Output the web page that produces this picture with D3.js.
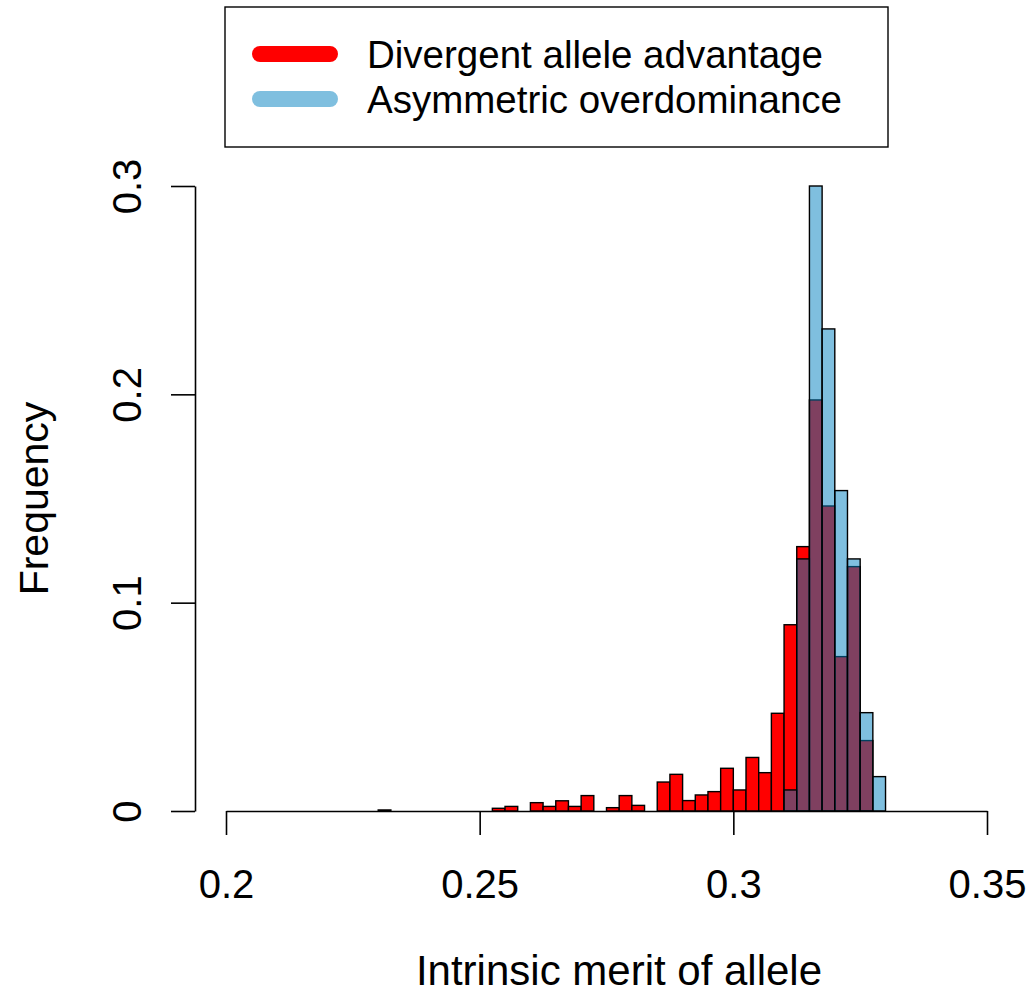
<!DOCTYPE html>
<html>
<head>
<meta charset="utf-8">
<script src="https://cdn.jsdelivr.net/npm/d3@7"></script>
<style>
  html, body { margin: 0; padding: 0; background: #fff; }
  svg { display: block; font-family: "Liberation Sans", Arial, Helvetica, sans-serif; }
</style>
</head>
<body>
<svg id="chart" width="1029" height="993"></svg>
<script>
// Histogram bins: lower edges start at binStart and step by binWidth (60 bins, 0.2 to 0.35)
const binStart = 0.2;
const binWidth = 0.0025;

// Relative frequency per bin, divergent allele advantage
const divergentFreq = [
  0, 0, 0, 0, 0, 0, 0, 0, 0, 0,
  0, 0, 0.0005, 0, 0, 0, 0, 0, 0, 0,
  0, 0.0013, 0.0022, 0, 0.004, 0.0022, 0.0049, 0.0022, 0.0074, 0,
  0.0016, 0.0074, 0.0027, 0, 0.0139, 0.0176, 0.005, 0.0077, 0.0093, 0.0205,
  0.0101, 0.0257, 0.0184, 0.0469, 0.0894, 0.1269, 0.1973, 0.1464, 0.0741, 0.1173,
  0.0338, 0, 0, 0, 0, 0, 0, 0, 0, 0
];

// Relative frequency per bin, asymmetric overdominance
const asymmetricFreq = [
  0, 0, 0, 0, 0, 0, 0, 0, 0, 0,
  0, 0, 0, 0, 0, 0, 0, 0, 0, 0,
  0, 0, 0, 0, 0, 0, 0, 0, 0, 0,
  0, 0, 0, 0, 0, 0, 0, 0, 0, 0,
  0, 0, 0, 0, 0.0101, 0.121, 0.3, 0.2314, 0.1538, 0.121,
  0.0472, 0.0165, 0, 0, 0, 0, 0, 0, 0, 0
];

const xTicks = [0.2, 0.25, 0.3, 0.35];
const xTickLabels = ["0.2", "0.25", "0.3", "0.35"];
const yTicks = [0, 0.1, 0.2, 0.3];
const yTickLabels = ["0", "0.1", "0.2", "0.3"];

const seriesNames = ["Divergent allele advantage", "Asymmetric overdominance"];
const seriesColors = ["#ff0000", "rgba(0,128,192,0.5)"];

const svg = d3.select("#chart");

const x = d3.scaleLinear().domain([0.2, 0.35]).range([226, 987]);
const y = d3.scaleLinear().domain([0, 0.3]).range([811, 186]);

function bins(values) {
  return values.map((v, i) => ({ x0: binStart + i * binWidth, x1: binStart + (i + 1) * binWidth, v }));
}

function drawHist(values, color) {
  svg.append("g")
    .selectAll("rect")
    .data(bins(values))
    .join("rect")
    .attr("x", d => x(d.x0))
    .attr("width", d => x(d.x1) - x(d.x0))
    .attr("y", d => y(d.v))
    .attr("height", d => y(0) - y(d.v))
    .attr("fill", color)
    .attr("stroke", "#000")
    .attr("stroke-width", 1.4);
}

drawHist(divergentFreq, seriesColors[0]);
drawHist(asymmetricFreq, seriesColors[1]);

const fontSize = 40;

// x axis along the zero line
const xAxis = d3.axisBottom(x).tickValues(xTicks).tickFormat((d, i) => xTickLabels[i]).tickSize(24).tickSizeOuter(0);
const gx = svg.append("g").attr("transform", `translate(0,${y(0)})`).call(xAxis);
gx.select(".domain").attr("stroke", "#000").attr("stroke-width", 1.6);
gx.selectAll(".tick line").attr("stroke", "#000").attr("stroke-width", 1.6);
gx.selectAll(".tick text")
  .attr("font-size", fontSize)
  .attr("font-family", "Liberation Sans, Arial, sans-serif")
  .attr("fill", "#000")
  .attr("y", 87)
  .attr("dy", 0);

// y axis with rotated labels
const yAxis = d3.axisLeft(y).tickValues(yTicks).tickFormat((d, i) => yTickLabels[i]).tickSize(24).tickSizeOuter(0);
const gy = svg.append("g").attr("transform", "translate(195,0)").call(yAxis);
gy.select(".domain").attr("stroke", "#000").attr("stroke-width", 1.6);
gy.selectAll(".tick line").attr("stroke", "#000").attr("stroke-width", 1.6);
gy.selectAll(".tick text")
  .attr("font-size", fontSize)
  .attr("font-family", "Liberation Sans, Arial, sans-serif")
  .attr("fill", "#000")
  .attr("x", null).attr("dy", null)
  .attr("text-anchor", "middle")
  .attr("transform", "translate(-54,0) rotate(-90)");

// axis titles
svg.append("text")
  .attr("x", 619)
  .attr("y", 985)
  .attr("text-anchor", "middle")
  .attr("font-size", 42)
  .text("Intrinsic merit of allele");

svg.append("text")
  .attr("transform", `translate(48,${(y(0) + y(0.3)) / 2}) rotate(-90)`)
  .attr("text-anchor", "middle")
  .attr("font-size", 41)
  .text("Frequency");

// legend
const legend = svg.append("g");
legend.append("rect")
  .attr("x", 225).attr("y", 7)
  .attr("width", 663).attr("height", 140)
  .attr("fill", "#fff")
  .attr("stroke", "#000")
  .attr("stroke-width", 1.4);

const legendRows = [54, 99];
seriesNames.forEach((name, i) => {
  legend.append("line")
    .attr("x1", 260).attr("x2", 330)
    .attr("y1", legendRows[i]).attr("y2", legendRows[i])
    .attr("stroke", seriesColors[i])
    .attr("stroke-width", 16)
    .attr("stroke-linecap", "round");
  legend.append("text")
    .attr("x", 367)
    .attr("y", legendRows[i] + 14)
    .attr("font-size", 38.5)
    .text(name);
});
</script>
</body>
</html>
